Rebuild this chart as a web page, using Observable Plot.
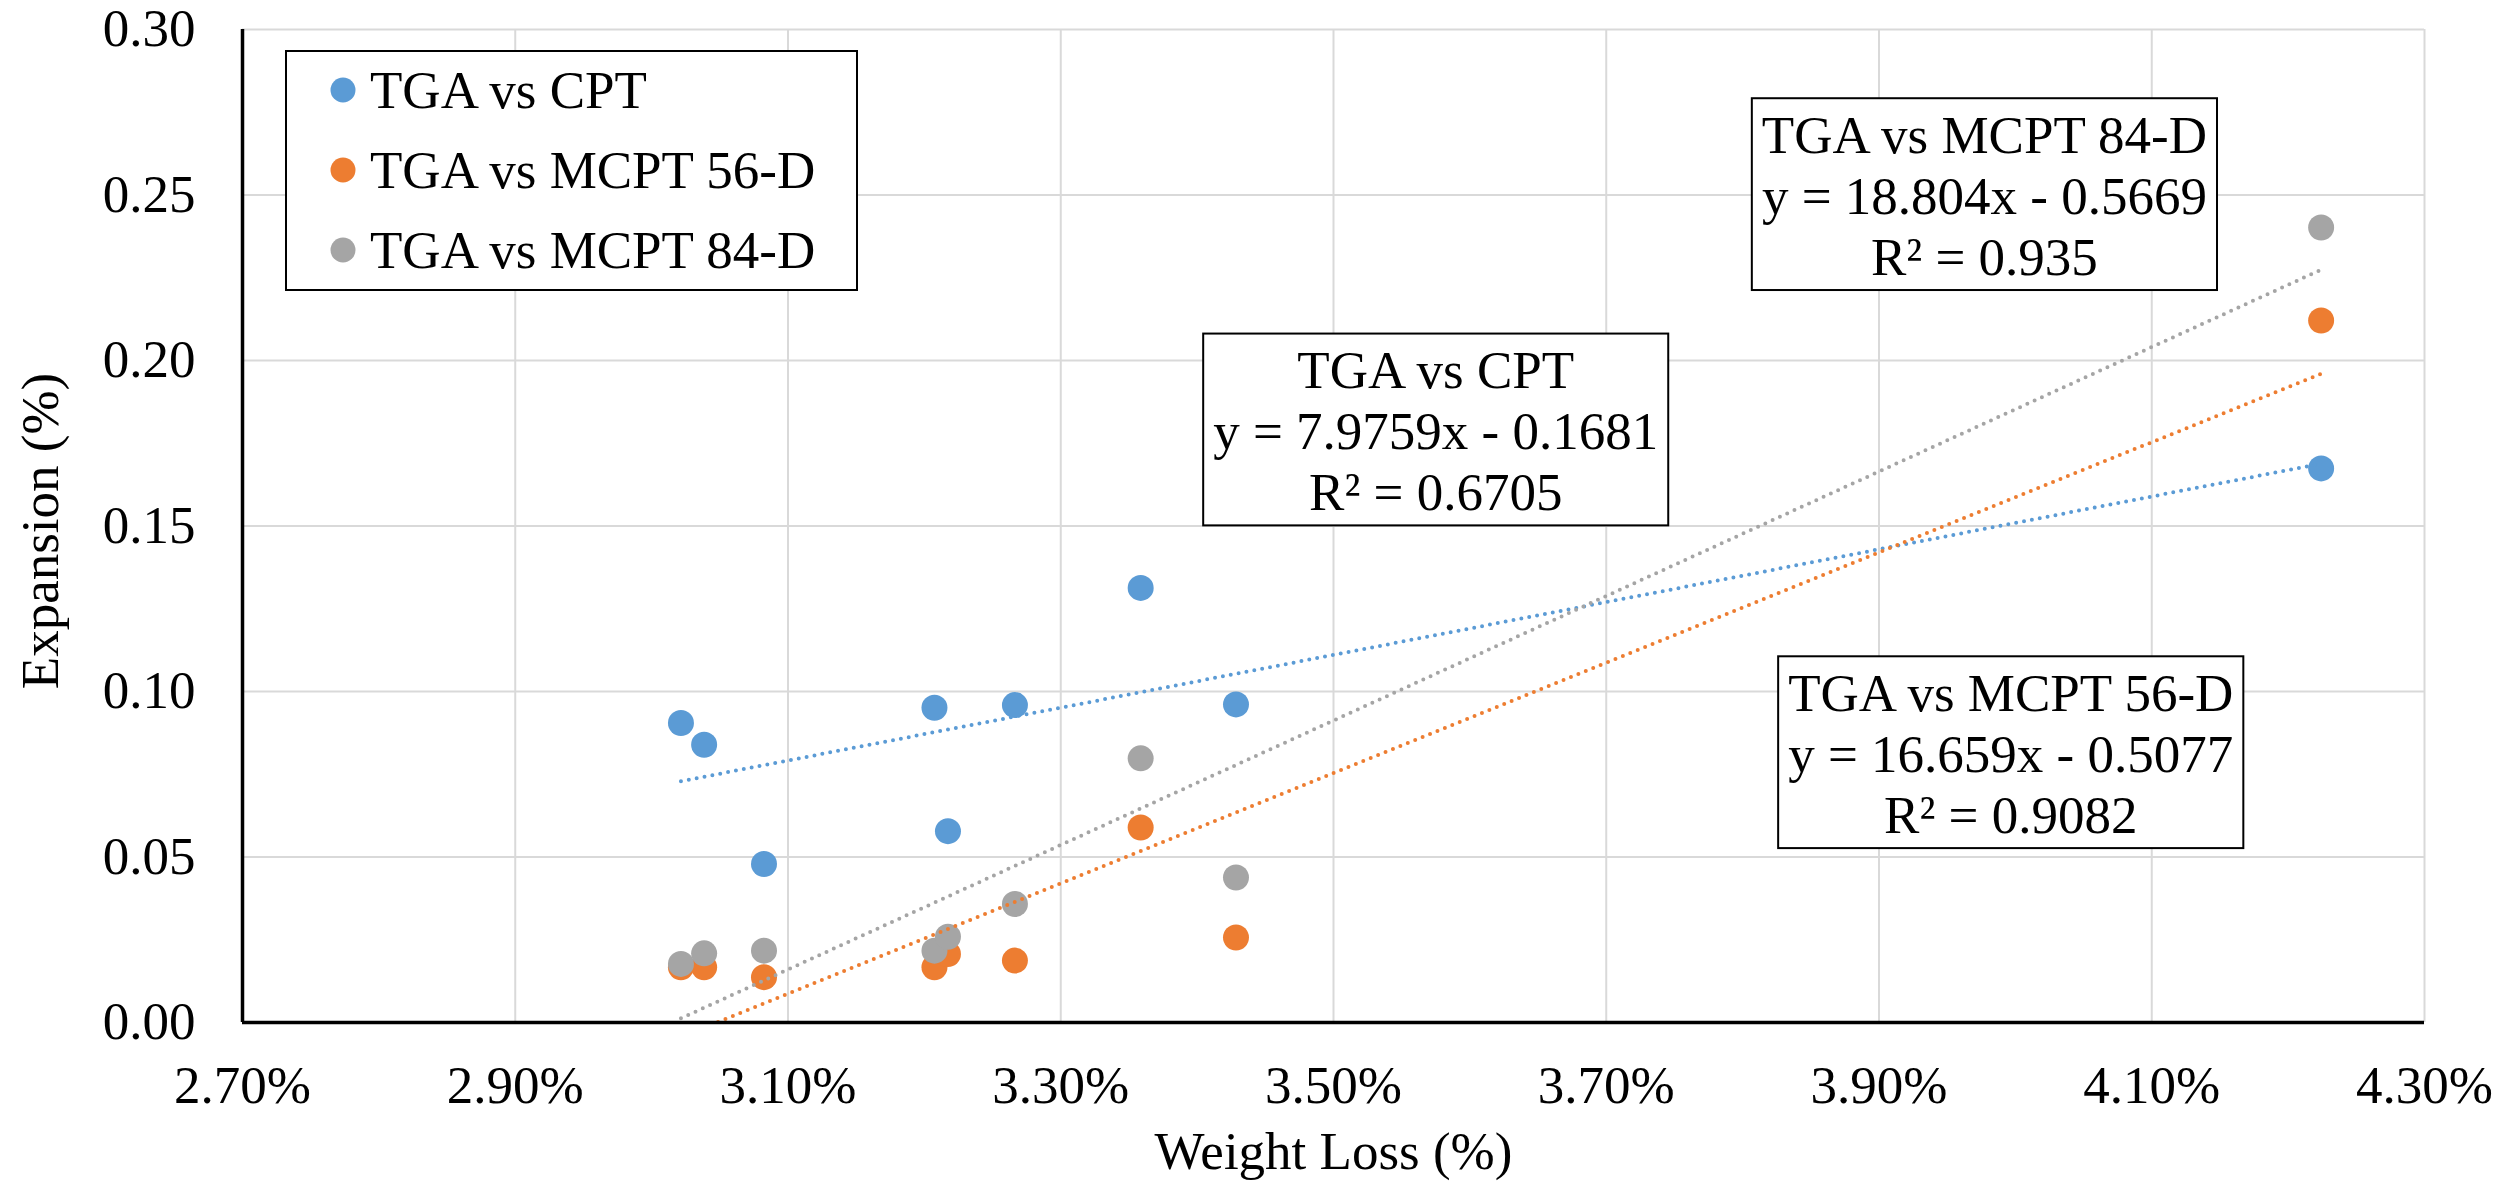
<!DOCTYPE html>
<html><head><meta charset="utf-8">
<script src="https://cdn.jsdelivr.net/npm/d3@7"></script>
<script src="https://cdn.jsdelivr.net/npm/@observablehq/plot@0.6"></script>
<style>html,body{margin:0;padding:0;background:#fff;} #chart{width:2516px;height:1182px;overflow:hidden;}</style>
</head><body><div id="chart"></div>
<script>
// ---- data ----
const seriesNames = ["TGA vs CPT", "TGA vs MCPT 56-D", "TGA vs MCPT 84-D"];
const seriesColors = ["#5B9BD5", "#ED7D31", "#A5A5A5"];
const weightLoss = [0.030215, 0.030385, 0.030824, 0.032074, 0.032173, 0.032664, 0.033586, 0.034285, 0.042242];
const expansionCPT = [0.0905, 0.0839, 0.0479, 0.0951, 0.0578, 0.0959, 0.1313, 0.0961, 0.1674];
const expansionMCPT56 = [0.0167, 0.0167, 0.0137, 0.0167, 0.0207, 0.0187, 0.0589, 0.0257, 0.2121];
const expansionMCPT84 = [0.0177, 0.0209, 0.0217, 0.0217, 0.0259, 0.0358, 0.0798, 0.0438, 0.2402];
const trendSlopes = [7.9759, 16.659, 18.804];
const trendIntercepts = [-0.1681, -0.5077, -0.5669];
const trendR2 = ["0.6705", "0.9082", "0.935"];
const xTicks = [0.027, 0.029, 0.031, 0.033, 0.035, 0.037, 0.039, 0.041, 0.043];
const yTicks = [0, 0.05, 0.10, 0.15, 0.20, 0.25, 0.30];
const xTitle = "Weight Loss (%)";
const yTitle = "Expansion (%)";
// regression label anchor positions (data units)
const labelPosX = [0.0357495, 0.039966, 0.039773];
const labelPosY = [0.1792, 0.0817, 0.2503];

// ---- derived tables ----
const seriesValues = [expansionCPT, expansionMCPT56, expansionMCPT84];
const points = seriesNames.flatMap((s, i) => weightLoss.map((x, j) => ({series: s, x, y: seriesValues[i][j]})));
const xMin = d3.min(weightLoss), xMax = d3.max(weightLoss);
const trend = seriesNames.flatMap((s, i) => [xMin, xMax].map(x => ({series: s, x, y: trendSlopes[i] * x + trendIntercepts[i]})));
const labels = seriesNames.map((s, i) => ({
  x: labelPosX[i], y: labelPosY[i],
  text: `${s}\ny = ${trendSlopes[i]}x - ${Math.abs(trendIntercepts[i])}\nR² = ${trendR2[i]}`
}));

const FONT = "'Liberation Serif', 'Times New Roman', serif";
const FS = 53;

const plot = Plot.plot({
  width: 2516, height: 1182,
  marginLeft: 242, marginRight: 92, marginTop: 29, marginBottom: 160,
  style: {fontFamily: FONT, fontSize: FS + "px", background: "white", color: "black"},
  x: {domain: [0.027, 0.043], ticks: xTicks, tickFormat: d3.format(".2%"), label: null},
  y: {domain: [0, 0.30], ticks: yTicks, tickFormat: d3.format(".2f"), label: null},
  color: {domain: seriesNames, range: seriesColors},
  marks: [
    Plot.gridX(xTicks, {stroke: "#d9d9d9", strokeOpacity: 1, strokeWidth: 2}),
    Plot.gridY(yTicks, {stroke: "#d9d9d9", strokeOpacity: 1, strokeWidth: 2}),
    Plot.axisX(xTicks, {tickSize: 0, tickPadding: 43, fontSize: FS, tickFormat: d3.format(".2%"), label: null}),
    Plot.axisY(yTicks, {tickSize: 0, tickPadding: 47, fontSize: FS, tickFormat: d3.format(".2f"), label: null}),
    Plot.dot(points, {x: "x", y: "y", fill: "series", r: 13}),
    Plot.line(trend, {x: "x", y: "y", z: "series", stroke: "series", strokeWidth: 4,
      strokeDasharray: "0 8", strokeLinecap: "round", clip: true}),
    Plot.ruleY([0], {stroke: "black", strokeWidth: 3.5}),
    Plot.ruleX([0.027], {stroke: "black", strokeWidth: 3.5}),
    Plot.text(labels, {x: "x", y: "y", text: "text", fontSize: FS, lineHeight: 1.151,
      textAnchor: "middle", lineAnchor: "middle", fill: "black", className: "annot"}),
    Plot.text([xTitle], {frameAnchor: "bottom", dy: 130, fontSize: FS, textAnchor: "middle", lineAnchor: "middle", fill: "black"}),
    Plot.text([yTitle], {frameAnchor: "left", dx: -201, dy: 5, rotate: -90, fontSize: FS, textAnchor: "middle", lineAnchor: "middle", fill: "black"})
  ]
});
document.getElementById("chart").appendChild(plot);

// boxes behind regression labels
const svg = d3.select(plot);
const svgRect = plot.getBoundingClientRect();
svg.selectAll("g.annot").each(function() {
  const g = this;
  const boxes = [];
  d3.select(g).selectAll("text").each(function() {
    const r = this.getBoundingClientRect();
    boxes.push({x: r.left - svgRect.left, y: r.top - svgRect.top, w: r.width, h: r.height});
  });
  const bg = document.createElementNS("http://www.w3.org/2000/svg", "g");
  g.parentNode.insertBefore(bg, g);
  d3.select(bg).selectAll("rect").data(boxes).join("rect")
    .attr("x", d => d.x - 10).attr("y", d => d.y - 7.3)
    .attr("width", d => d.w + 20).attr("height", d => d.h + 11.8)
    .attr("fill", "white").attr("stroke", "black").attr("stroke-width", 2);
});

// legend (inside plot area, top-left)
const lg = svg.append("g").attr("font-family", FONT).attr("font-size", FS).attr("text-anchor", "start");
lg.append("rect").attr("x", 286).attr("y", 51).attr("width", 571).attr("height", 239)
  .attr("fill", "white").attr("stroke", "black").attr("stroke-width", 2);
seriesNames.forEach((s, i) => {
  const cy = 90 + i * 80;
  lg.append("circle").attr("cx", 343).attr("cy", cy).attr("r", 12.5).attr("fill", seriesColors[i]);
  lg.append("text").attr("x", 370).attr("y", cy + 17.5).attr("fill", "black").attr("text-anchor", "start").text(s);
});
</script>
</body></html>
